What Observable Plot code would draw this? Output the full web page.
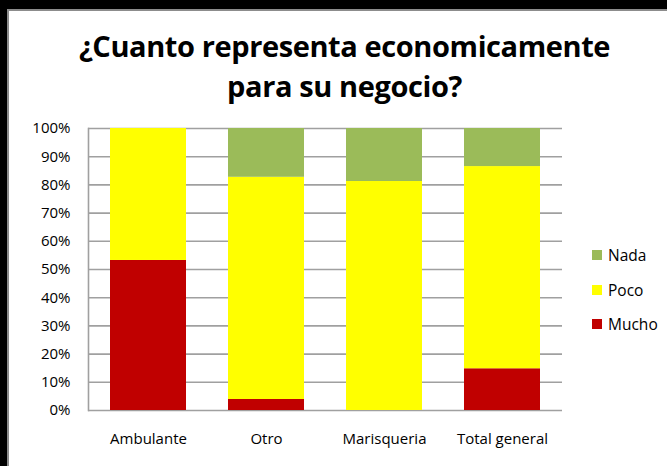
<!DOCTYPE html>
<html>
<head>
<meta charset="utf-8">
<script src="https://cdn.jsdelivr.net/npm/d3@7"></script>
<script src="https://cdn.jsdelivr.net/npm/@observablehq/plot@0.6"></script>
<style>
  html, body { margin: 0; padding: 0; background: #000; }
  #page { position: relative; width: 667px; height: 466px; background: #000; overflow: hidden; }
  #inner { position: absolute; left: 7px; top: 9px; right: 0; bottom: 0; background: #fff; border-top: 2px solid #8c8c8c; border-left: 2px solid #8c8c8c; }
  #title { position: absolute; left: 0; top: 26px; width: 689px; text-align: center; font-family: "Open Sans", sans-serif; font-weight: 700; font-size: 29px; line-height: 40px; color: #000; letter-spacing: -0.4px; }
  #chart { position: absolute; left: 0; top: 110px; }
  #legend { position: absolute; left: 592px; top: 245px; font-family: "Open Sans", sans-serif; font-size: 15.5px; color: #000; }
  .li { display: flex; align-items: center; height: 20px; margin-bottom: 14.5px; }
  .sw { width: 10px; height: 10px; margin-right: 6px; }
  #chart svg text { font-size: 15px; }
</style>
</head>
<body>
<div id="page">
  <div id="inner"></div>
  <div id="title">¿Cuanto representa economicamente<br>para su negocio?</div>
  <div id="chart"></div>
  <div id="legend"></div>
</div>
<script>
const categories = ["Ambulante", "Otro", "Marisqueria", "Total general"];
const series = ["Mucho", "Poco", "Nada"];
const mucho = [0.532, 0.039, 0.0, 0.148];
const poco  = [0.468, 0.788, 0.812, 0.717];
const nada  = [0.0, 0.173, 0.188, 0.135];
const colors = ["#C00000", "#FFFF00", "#9BBB59"];
const yTicks = [0, 0.1, 0.2, 0.3, 0.4, 0.5, 0.6, 0.7, 0.8, 0.9, 1.0];

const values = {Mucho: mucho, Poco: poco, Nada: nada};
const data = [];
series.forEach(s => categories.forEach((c, i) => data.push({category: c, series: s, value: values[s][i]})));

const chart = Plot.plot({
  width: 667,
  height: 340,
  marginLeft: 88,
  marginRight: 105,
  marginTop: 18,
  marginBottom: 40,
  style: {background: "transparent", fontFamily: "Open Sans, sans-serif", fontSize: "15px", color: "#000"},
  x: {domain: categories, paddingInner: 0.353, paddingOuter: 0.1765, label: null},
  y: {domain: [0, 1], label: null},
  color: {domain: series, range: colors},
  marks: [
    Plot.gridY(yTicks, {stroke: "#a0a0a0", strokeOpacity: 1, strokeWidth: 1.6}),
    Plot.frame({anchor: "left", stroke: "#a0a0a0", strokeWidth: 1.6}),
    Plot.barY(data, Plot.stackY({order: series, x: "category", y: "value", fill: "series"})),
    Plot.axisY(yTicks, {tickSize: 0, tickPadding: 18, tickFormat: d3.format(".0%"), label: null}),
    Plot.axisX({tickSize: 0, tickPadding: 23, label: null})
  ]
});
document.getElementById("chart").appendChild(chart);

const legend = document.getElementById("legend");
series.slice().reverse().forEach(s => {
  const row = document.createElement("div");
  row.className = "li";
  const sw = document.createElement("div");
  sw.className = "sw";
  sw.style.background = colors[series.indexOf(s)];
  const t = document.createElement("span");
  t.textContent = s;
  row.appendChild(sw); row.appendChild(t);
  legend.appendChild(row);
});
</script>
</body>
</html>
